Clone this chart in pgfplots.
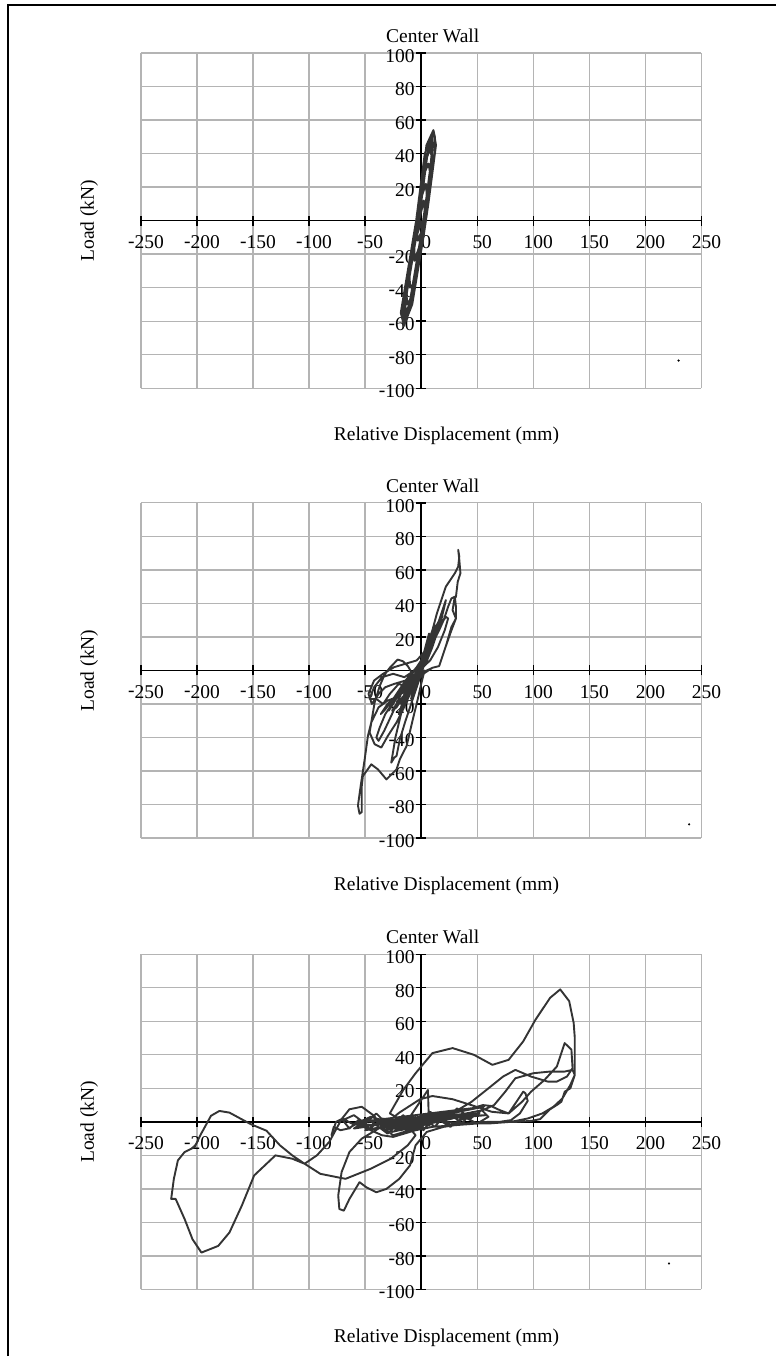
\documentclass[border=0pt]{standalone}
\usepackage{pgfplots}
\pgfplotsset{compat=1.18}
\usepackage{fontspec}
\setmainfont{Liberation Serif}
\definecolor{curve}{RGB}{52,52,52}
\definecolor{gridc}{RGB}{180,180,180}
\newcommand{\m}{\raisebox{0.06em}{-}}
\pgfplotsset{
  panel/.style={
    set layers,
    scale only axis, width=561bp, height=335.5bp,
    xmin=-250, xmax=250, ymin=-100, ymax=100,
    axis lines*=middle,
    hide obscured x ticks=false,
    hide obscured y ticks=false,
    xtick={-250,-200,-150,-100,-50,0,50,100,150,200,250},
    xticklabels={\m250,\m200,\m150,\m100,\m50,0,50,100,150,200,250},
    ytick={-100,-80,-60,-40,-20,20,40,60,80,100},
    yticklabels={\m100,\m80,\m60,\m40,\m20,20,40,60,80,100},
    grid=major,
    major grid style={draw=gridc, line width=1.3bp},
    axis line style={black, line width=1.5bp},
    tick style={black, line width=1.4bp},
    major tick length=10bp, tick align=center,
    xticklabel style={anchor=north, inner sep=0pt, xshift=5bp, yshift=-9.5bp},
    yticklabel style={anchor=east, inner sep=0pt, xshift=-1.5bp, yshift=-3bp},
    every axis title/.style={at={(axis description cs:0.5205,1)}, anchor=base, yshift=10.6bp, inner sep=0pt},
    every axis x label/.style={at={(axis description cs:0.545,0)}, anchor=base, yshift=-52.7bp, inner sep=0pt},
    every axis y label/.style={at={(axis description cs:-0.0838,0.5)}, rotate=90, anchor=base, inner sep=0pt},
    title={Center Wall},
    xlabel={Relative Displacement (mm)},
    ylabel={Load (kN)},
  },
  curvestyle/.style={color=curve, line width=1.9bp, line join=round, mark=none},
  dotstyle/.style={only marks, mark=*, mark size=0.9bp, color=black},
}
\begin{document}
\fontsize{19.5bp}{23bp}\selectfont
\begin{tikzpicture}
\path (0,0) rectangle (777bp,-1357bp);
\draw[black, line width=2bp] (7.7bp,-1357bp) -- (7.7bp,-5.5bp) -- (777bp,-5.5bp);

% ---------------- Panel 1 ----------------
\begin{axis}[panel, at={(141bp,-388.5bp)}, anchor=south west]
\addplot[curvestyle] coordinates {
(0,0) (0.5,-6) (2,0) (3.2,6) (2.3,12) (-0.9,6) (-2,0) (-3.5,-6) (-3,-12) (0.5,-6)
(0,-12) (3,0) (5.3,12) (4.2,22) (-0.7,12) (-3,0) (-6,-12) (-6,-24) (0,-12)
(-3.5,-28) (0,-14) (3.5,0) (6.2,14) (8.5,26) (6.5,34) (1.5,26) (-0.8,14) (-3.5,0) (-7,-14) (-10.5,-28) (-10,-40)
(-5.5,-38) (-2,-24) (1.5,-10) (4.8,4) (7.5,18) (10.2,32) (8.5,44) (2.2,32) (-0.5,18) (-3.2,4) (-6.5,-10) (-10,-24) (-13.5,-38) (-12.5,-50)
(-8.2,-45) (-3.2,-25) (1.8,-5) (5.9,15) (9.7,35) (9.2,47) (3.7,35) (-0.1,15) (-4.2,-5) (-9.2,-25) (-14.2,-45) (-14,-55)
(-10.5,-50) (-5.5,-30) (-0.5,-10) (3.9,10) (7.8,30) (10.2,45) (10,50) (5.7,40) (1.8,20) (-2,0) (-7,-20) (-12,-40) (-15.8,-55) (-15,-60)
(-8.5,-50) (-4.8,-35) (-1,-20) (2.8,-5) (5.9,10) (8.8,25) (11.7,40) (12.2,50) (10.9,54) (4.7,45) (1.8,30) (-1.1,15) (-4,0) (-7.8,-15) (-11.5,-30) (-15.2,-45) (-16.8,-56) (-15.6,-63)
(-8,-50) (-3,-30) (2,-10) (6.4,10) (10.3,30) (13.2,45) (11.5,52) (3.2,40) (-0.7,20) (-4.5,0) (-9.5,-20) (-14.5,-40) (-18.2,-55) (-16,-61)
(-9,-50) (-5.2,-35) (-1.5,-20) (2.5,-5) (5.4,10) (8.3,25) (9.5,38) (7.4,43.4) (3.2,35) (0.3,20) (-2.5,5) (-6,-10) (-9.7,-25) (-13.5,-40) (-15.5,-52) (-14.5,-58)
(-7.8,-45) (-4,-30) (-0.2,-15) (3,0) (4.5,10) (1,8) (-2,0) (-4.5,-10) (-2,-5) (0,0)
};
\addplot[dotstyle] coordinates {(229.6,-83.5)};
\end{axis}

% ---------------- Panel 2 ----------------
\begin{axis}[panel, at={(141bp,-838.7bp)}, anchor=south west]
\addplot[curvestyle] coordinates {
(0,0) (3,6) (5,10) (2,4) (-2,-4) (-5,-10) (-3,-6) (1,2)
(4,10) (7,16) (8,18) (5,12) (0,2) (-4,-6) (-8,-14) (-9,-17) (-6,-11) (-2,-2) (2,6)
(6,14) (10,22) (12,27) (10,24) (6,16) (1,6) (-4,-2) (-10,-8) (-15,-14) (-18,-20) (-15,-16) (-10,-8) (-4,0) (2,8)
(6,8) (12,18) (15,25) (13,24) (8,14) (2,4) (-6,-6) (-14,-14) (-22,-20) (-26,-24) (-22,-22) (-14,-14) (-6,-4) (2,6)
(8,18) (13,26) (17,31) (19,33) (17,28) (13,20) (7,10) (0,2) (-7,-4) (-14,-8) (-20,-12) (-26,-18) (-29,-24) (-25,-20) (-18,-12) (-10,-4) (-3,3) (5,10)
(10,16) (16,24) (20,30) (18,30) (12,20) (5,10) (-3,0) (-12,-8) (-20,-14) (-30,-20) (-36,-26) (-33,-24) (-24,-16) (-14,-6) (-4,2) (4,10)
(12,20) (18,28) (22,32) (24,31) (21,24) (15,14) (8,6) (0,1) (-8,-6) (-16,-12) (-24,-18) (-32,-26) (-37,-34) (-40,-40) (-38,-42) (-33,-36) (-26,-26) (-18,-14) (-10,-4) (-2,4) (6,12)
(14,22) (20,30) (24,38) (27,43) (30,44) (31,38) (31,31) (27,24) (22,14.5) (16,2.6) (10,1.6) (2,-2) (-6,-8) (-14,-12) (-22,-16) (-30,-18) (-38,-22) (-44.5,-31) (-46,-37) (-41.5,-44) (-35.6,-46) (-29.7,-39) (-22,-31) (-16,-23) (-10,-14) (-4,-4) (2,6)
(8,16) (14,26) (18,34) (21,40) (22,42) (20,36) (16,26) (10,14) (4,4) (-4,-4) (-12,-14) (-18,-26) (-23,-40) (-26.7,-55) (-24,-52) (-22,-51) (-19,-41) (-14,-30) (-8,-18) (-2,-6) (4,6)
(-4,-2) (-14,-6) (-24,-8) (-32,-10) (-38,-14) (-44,-20) (-47,-14) (-42,-6) (-34,-2) (-24,2) (-14,4) (-4,6) (4,12)
(6,14) (10,24) (14,34) (18,42) (22,50) (26,54) (30,58) (33,62) (34,68) (33,72) (34,66) (35,58) (32.6,53) (31,44) (29.7,43) (28,36) (31,31) (27,26) (22,14.5) (16,2.6) (10,1.6) (2,-1) (-6,-4) (-11.9,2.6) (-16.3,5.5) (-21,6.5) (-28,1.6) (-32.6,-2.4) (-37,-9.3) (-41.5,-19) (-44.5,-31) (-47.5,-39) (-50.4,-53) (-54,-69) (-56.4,-80.6) (-55,-85.5) (-53,-84.5) (-53,-69) (-52,-63) (-44.5,-56) (-38.6,-59) (-31,-65) (-22,-59) (-19,-53) (-13,-45) (-7.4,-29) (-3,-17) (0,-8) (3,0)
(-5,-6) (-12,-10) (-20,-8) (-28,-14) (-34,-20) (-40,-17) (-46,-17) (-42,-10) (-35,-4) (-25,-2) (-15,-4) (-6,0) (0,4)
(5,12) (9,20) (7,22) (3,12) (-2,2) (-8,-6) (-15,-16) (-20,-26) (-17,-24) (-10,-12) (-4,-2) (0,0)
};
\addplot[dotstyle] coordinates {(239,-91.8)};
\end{axis}

% ---------------- Panel 3 ----------------
\begin{axis}[panel, at={(141bp,-1290.4bp)}, anchor=south west]
\addplot[curvestyle] coordinates {
(0,0) (4,2) (-3,-2) (8,3) (-6,-3) (12,1) (-10,-4) (5,-1) (16,4) (-14,-2) (20,3) (-18,-5) (6,19) (7,-2) (24,5) (-22,-3) (28,2) (-26,-6) (32,6) (-30,-2) (36,3) (-34,-5) (40,7) (-38,-1) (44,4) (-42,-4) (48,8) (-46,-2) (52,5) (-50,-5) (56,9) (-54,0) (58,4) (-58,-3)
(-48,2) (-36,-4) (-24,3) (-12,-6) (0,4) (12,-3) (24,6) (36,-1) (46,6) (38,2) (26,-2) (14,5) (2,-5) (-10,3) (-22,-5) (-34,2) (-46,-4) (-56,1) (-64,-4) (-70,1)
(-60,4) (-50,-1) (-40,5) (-28,-3) (-16,4) (-4,-4) (8,6) (20,0) (32,8) (44,2) (54,7) (60,3) (50,-1) (38,3) (26,-3) (14,2) (2,-2) (-10,-6) (-20,-1) (-30,-7) (-40,-2)
(-62,-1) (-70,2) (-76,0) (-80,-8) (-78,-3) (-72,-5) (-65,-4) (-55,0) (-45,3) (-30,0) (-15,2) (0,3) (15,5) (30,6) (45,8) (55,10) (62,9.5) (70,7) (78,5) (85,12) (91,18) (93,17) (95,12.5) (88,5) (80,1) (70,0) (50,-1) (30,-2) (10,-3) (-5,-5) (-15,-7) (-25,-9) (-35,-8) (-45,-5) (-55,-2) (-60,-4)
(-50,-3) (-40,-1) (-25,1) (-10,2) (5,3) (20,3) (40,5) (55,7) (65,10) (75,18) (84,26) (100,29) (115,30) (128,30) (135,31) (137,28) (133,20) (128,18) (125,12) (122,10.5) (115,7.5) (106,1.6) (98.5,0.6) (85,0) (60,0) (40,-1) (20,-3) (5,-6) (-5,-14) (-10,-26) (-19.5,-34) (-31,-40) (-40,-42) (-49,-39) (-55,-36) (-64,-46) (-69,-53) (-73,-52) (-74,-44) (-71,-30) (-64,-18) (-53,-10) (-34,-2.4) (-19.5,5.5) (-1,13.5) (10,15.4) (28,13.5) (47,9.5) (63,6) (78,5)
(90,12) (98,18) (110,25) (121,33) (128,47) (134,43) (135,32) (130,27) (121,24) (113,24) (98,27) (84,31) (73,27) (60,20) (45,12) (30,6) (10,0) (-10,-5) (-25,-8)
(-35,-3) (-42,3.6) (-53,9) (-64,7.5) (-71,1.6) (-82,-12) (-93,-20) (-104,-25) (-115,-22) (-130,-20) (-149,-32) (-160,-50) (-171,-66) (-181,-74) (-196,-78) (-204,-70) (-211,-58) (-219,-46) (-223,-46) (-220.6,-34) (-217,-23) (-211,-18) (-202,-15) (-197,-8) (-187.5,3.6) (-180,6.5) (-171,5.5) (-152,-1.4) (-138,-5.3) (-126,-14) (-115,-20) (-104,-25) (-90,-31) (-67.5,-34) (-45,-28) (-27,-22) (-12,-14) (-5,-8) (-15,0) (-28,5) (-16,19) (-5,29) (10,41) (28,44) (47,40) (63.5,34) (78,37) (91,48) (102,61) (115,74) (124,79) (132,72) (136,59) (137,50) (137,35) (137,28) (133,22) (126,14) (118,9) (108,5) (95,2) (80,0) (60,-1) (40,-1) (20,0) (10,2) (0,-3) (-8,2) (3,-4) (12,3) (0,0)
};
\addplot[dotstyle] coordinates {(221,-84.5)};
\end{axis}
\end{tikzpicture}
\end{document}
